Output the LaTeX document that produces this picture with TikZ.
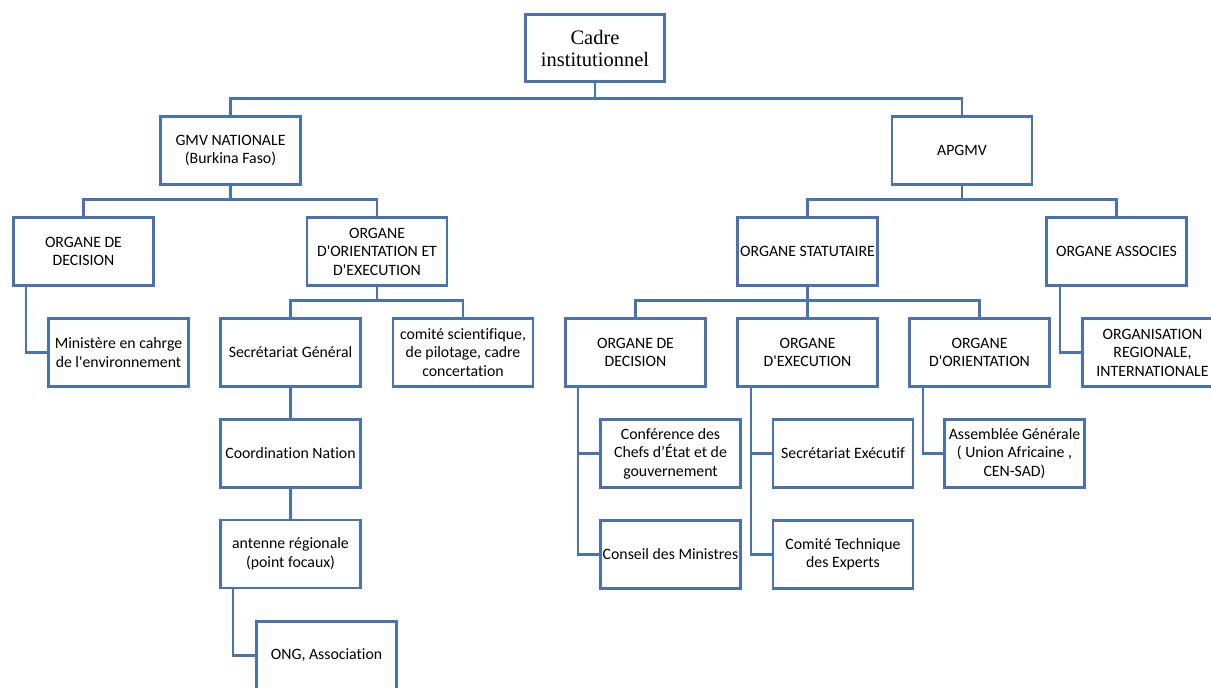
\documentclass[tikz,border=0pt]{standalone}
\usepackage{fontspec}
\setmainfont{Carlito}[Ligatures={TeXOff,CommonOff}]
\newfontfamily\timesfont{Liberation Serif}
\definecolor{boxblue}{RGB}{72,114,176}
\begin{document}
\begin{tikzpicture}[x=1pt,y=-1pt,
  orgbox/.style={draw=boxblue, line width=2.9pt, fill=white, rectangle,
    minimum width=140pt, minimum height=68pt, inner sep=1pt, outer sep=0pt,
    align=center, font=\fontsize{15.8}{18.5}\selectfont, text=black},
  link/.style={draw=boxblue, line width=2.8pt}]
\useasboundingbox (0,0) rectangle (1211,688);
% nodes
\node[orgbox, minimum width=139pt, minimum height=67pt, font=\timesfont\fontsize{20.5}{22}\selectfont] (top) at (595,48) {Cadre\\institutionnel};
\node[orgbox] (gmv) at (230.5,150.5) {GMV NATIONALE\\(Burkina Faso)};
\node[orgbox] (apgmv) at (962,150.5) {APGMV};
\node[orgbox] (dec1) at (83.5,251.5) {ORGANE DE\\DECISION};
\node[orgbox] (ori1) at (377,251.5) {ORGANE\\D'ORIENTATION ET\\D'EXECUTION};
\node[orgbox] (stat) at (807.5,251.5) {ORGANE STATUTAIRE};
\node[orgbox] (assoc) at (1116.5,251.5) {ORGANE ASSOCIES};
\node[orgbox] (min) at (118.5,352.5) {Ministère en cahrge\\de l'environnement};
\node[orgbox] (sg) at (290.5,352.5) {Secrétariat Général};
\node[orgbox] (comite) at (463,352.5) {comité scientifique,\\de pilotage, cadre\\concertation};
\node[orgbox] (coord) at (290.5,453.5) {Coordination Nation};
\node[orgbox] (ant) at (290.5,554) {antenne régionale\\(point focaux)};
\node[orgbox] (ong) at (326.5,655.5) {ONG, Association};
\node[orgbox] (dec2) at (635.5,352.5) {ORGANE DE\\DECISION};
\node[orgbox] (exe2) at (807.5,352.5) {ORGANE\\D'EXECUTION};
\node[orgbox] (ori2) at (979.5,352.5) {ORGANE\\D'ORIENTATION};
\node[orgbox] (orgint) at (1152.5,352.5) {ORGANISATION\\REGIONALE,\\INTERNATIONALE};
\node[orgbox] (conf) at (670.5,453.5) {Conférence des\\Chefs d’État et de\\gouvernement};
\node[orgbox] (conseil) at (670.5,554.5) {Conseil des Ministres};
\node[orgbox] (secex) at (843,453.5) {Secrétariat Exécutif};
\node[orgbox] (ctech) at (843,554.5) {Comité Technique\\des Experts};
\node[orgbox] (ag) at (1014.5,453.5) {Assemblée Générale\\( Union Africaine ,\\CEN-SAD)};
% connectors
\draw[link] (top.south) -- ++(0,17) -| (gmv.north);
\draw[link] (top.south) -- ++(0,17) -| (apgmv.north);
\draw[link] (gmv.south) -- ++(0,15) -| (dec1.north);
\draw[link] (gmv.south) -- ++(0,15) -| (ori1.north);
\draw[link] (apgmv.south) -- ++(0,15) -| (stat.north);
\draw[link] (apgmv.south) -- ++(0,15) -| (assoc.north);
\draw[link] (ori1.south) -- ++(0,15) -| (sg.north);
\draw[link] (ori1.south) -- ++(0,15) -| (comite.north);
\draw[link] (stat.south) -- ++(0,15) -| (dec2.north);
\draw[link] (stat.south) -- (exe2.north);
\draw[link] (stat.south) -- ++(0,15) -| (ori2.north);
\draw[link] (sg.south) -- (coord.north);
\draw[link] (coord.south) -- (ant.north);
\draw[link] ([xshift=-57.5pt]dec1.south) |- (min.west);
\draw[link] ([xshift=-57.5pt]ant.south) |- (ong.west);
\draw[link] ([xshift=-57.5pt]dec2.south) |- (conf.west);
\draw[link] ([xshift=-57.5pt]dec2.south) |- (conseil.west);
\draw[link] ([xshift=-56.5pt]exe2.south) |- (secex.west);
\draw[link] ([xshift=-56.5pt]exe2.south) |- (ctech.west);
\draw[link] ([xshift=-56.5pt]ori2.south) |- (ag.west);
\draw[link] ([xshift=-56.5pt]assoc.south) |- (orgint.west);
\end{tikzpicture}
\end{document}
